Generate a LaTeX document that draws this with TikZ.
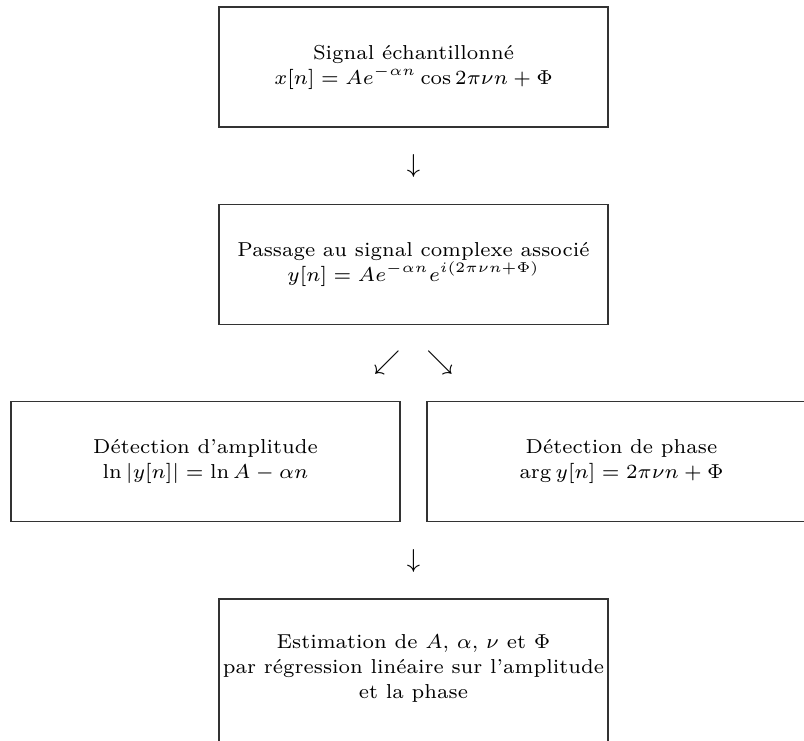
\documentclass[tikz,border=0pt]{standalone}
\usepackage{amsmath}
\begin{document}
\begin{tikzpicture}[x=0.3472pt,y=-0.3472pt,
  blk/.style={draw=black!80,line width=0.4pt,minimum width=389*0.3472pt,minimum height=120*0.3472pt,align=center,inner sep=0pt,font=\fontsize{7}{8.7}\selectfont},
  txt/.style={align=center,inner sep=0pt,font=\fontsize{7}{8.7}\selectfont},
  arr/.style={inner sep=0pt,font=\fontsize{8.7}{10}\selectfont}]
\useasboundingbox (0,0) rectangle (804,740);
\clip (0,0) rectangle (804,740);
\node[blk] (sig) at (413.5,67) {Signal échantillonné\\$x[n]=Ae^{-\alpha n}\cos 2\pi\nu n+\Phi$};
\node[arr] (a1) at (413.5,166) {$\downarrow$};
\node[blk] (cpx) at (413.5,264.5) {Passage au signal complexe associé\\$y[n]=Ae^{-\alpha n}e^{i(2\pi\nu n+\Phi)}$};
\node[arr] (a2) at (387,363) {$\swarrow$};
\node[arr] (a3) at (440,363) {$\searrow$};
\node[blk] (amp) at (205.5,461.5) {Détection d'amplitude\\$\ln|y[n]|=\ln A-\alpha n$};
\node[blk] (pha) at (621.5,461.5) {Détection de phase\\$\arg y[n]=2\pi\nu n+\Phi$};
\node[arr] (a4) at (413.5,561) {$\downarrow$};
\node[blk,minimum height=148*0.3472pt] (estbox) at (413.5,673) {};
\node[txt] (est) at (413.5,668) {Estimation de $A$, $\alpha$, $\nu$ et $\Phi$\\par régression linéaire sur l'amplitude\\et la phase};
\end{tikzpicture}
\end{document}
